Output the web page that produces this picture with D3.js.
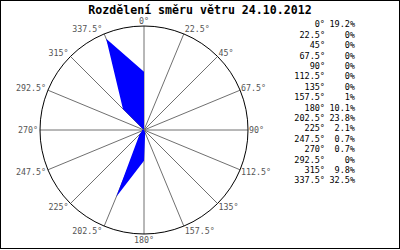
<!DOCTYPE html>
<html>
<head>
<meta charset="utf-8">
<script src="https://cdn.jsdelivr.net/npm/d3@7"></script>
<style>
body { margin: 0; background: #fff; }
</style>
</head>
<body>
<div id="chart"></div>
<script>
var title = "Rozdělení směru větru 24.10.2012";
var directions = [0, 22.5, 45, 67.5, 90, 112.5, 135, 157.5, 180, 202.5, 225, 247.5, 270, 292.5, 315, 337.5];
var dirLabels = ["0°", "22.5°", "45°", "67.5°", "90°", "112.5°", "135°", "157.5°", "180°", "202.5°", "225°", "247.5°", "270°", "292.5°", "315°", "337.5°"];
var shares = [19.2, 0, 0, 0, 0, 0, 0, 1, 10.1, 23.8, 2.1, 0.7, 0.7, 0, 9.8, 32.5];
var shareLabels = ["19.2%", "0%", "0%", "0%", "0%", "0%", "0%", "1%", "10.1%", "23.8%", "2.1%", "0.7%", "0.7%", "0%", "9.8%", "32.5%"];

var w = 400;
var h = 250;
var cx = 144, cy = 130, radius = 104;

var svg = d3.select("#chart").append("svg").attr("width", w).attr("height", h);

svg.append("rect")
    .attr("x", 0.5).attr("y", 0.5)
    .attr("width", w - 1).attr("height", h - 2)
    .attr("fill", "#fff").attr("stroke", "#000");

svg.append("text")
    .attr("x", 200).attr("y", 14)
    .attr("text-anchor", "middle")
    .attr("font-family", "DejaVu Sans Mono")
    .attr("font-weight", "bold")
    .attr("font-size", "11.6px")
    .text(title);

// radial scale, max a bit above the largest share
var rScale = d3.scaleLinear().domain([0, d3.max(shares) * 1.053]).range([0, radius]);
var toRad = function(a) { return a * Math.PI / 180; };

var g = svg.append("g").attr("transform", "translate(" + cx + "," + cy + ")");

// spokes
g.selectAll("line.spoke")
    .data(directions)
    .enter()
    .append("line")
    .attr("class", "spoke")
    .attr("x1", 0).attr("y1", 0)
    .attr("x2", function(d) { return radius * Math.sin(toRad(d)); })
    .attr("y2", function(d) { return -radius * Math.cos(toRad(d)); })
    .attr("stroke", "#707070")
    .attr("stroke-width", 1);

// wind rose polygon, over the spokes
var line = d3.lineRadial()
    .angle(function(d, i) { return toRad(directions[i]); })
    .radius(function(d) { return rScale(d); })
    .curve(d3.curveLinearClosed);

g.append("path")
    .attr("d", line(shares))
    .attr("fill", "#0000ff")
    .attr("stroke", "none");

g.append("circle")
    .attr("r", radius)
    .attr("fill", "none")
    .attr("stroke", "#000")
    .attr("stroke-width", 1);

// direction labels round the circle
g.selectAll("text.dir")
    .data(directions)
    .enter()
    .append("text")
    .attr("class", "dir")
    .attr("x", function(d) {
        var s = Math.sin(toRad(d));
        if (s > 0.1) return radius * s + 1;
        if (s < -0.1) return radius * s - 2;
        return 0;
    })
    .attr("y", function(d) {
        var c = Math.cos(toRad(d));
        return -radius * c - 5.5 * c + 3;
    })
    .attr("text-anchor", function(d) {
        var s = Math.sin(toRad(d));
        if (s > 0.1) return "start";
        if (s < -0.1) return "end";
        return "middle";
    })
    .attr("font-family", "DejaVu Sans Mono")
    .attr("font-size", "8.3px")
    .attr("fill", "#555")
    .text(function(d, i) { return dirLabels[i]; });

// legend table
var legend = svg.selectAll("g.legend")
    .data(directions)
    .enter()
    .append("g")
    .attr("class", "legend")
    .attr("transform", function(d, i) { return "translate(0," + (27.3 + i * 10.4) + ")"; });

legend.append("text")
    .attr("x", 325)
    .attr("text-anchor", "end")
    .attr("font-family", "DejaVu Sans Mono")
    .attr("font-size", "8.5px")
    .text(function(d, i) { return dirLabels[i]; });

legend.append("text")
    .attr("x", 355)
    .attr("text-anchor", "end")
    .attr("font-family", "DejaVu Sans Mono")
    .attr("font-size", "8.5px")
    .text(function(d, i) { return shareLabels[i]; });
</script>
</body>
</html>
